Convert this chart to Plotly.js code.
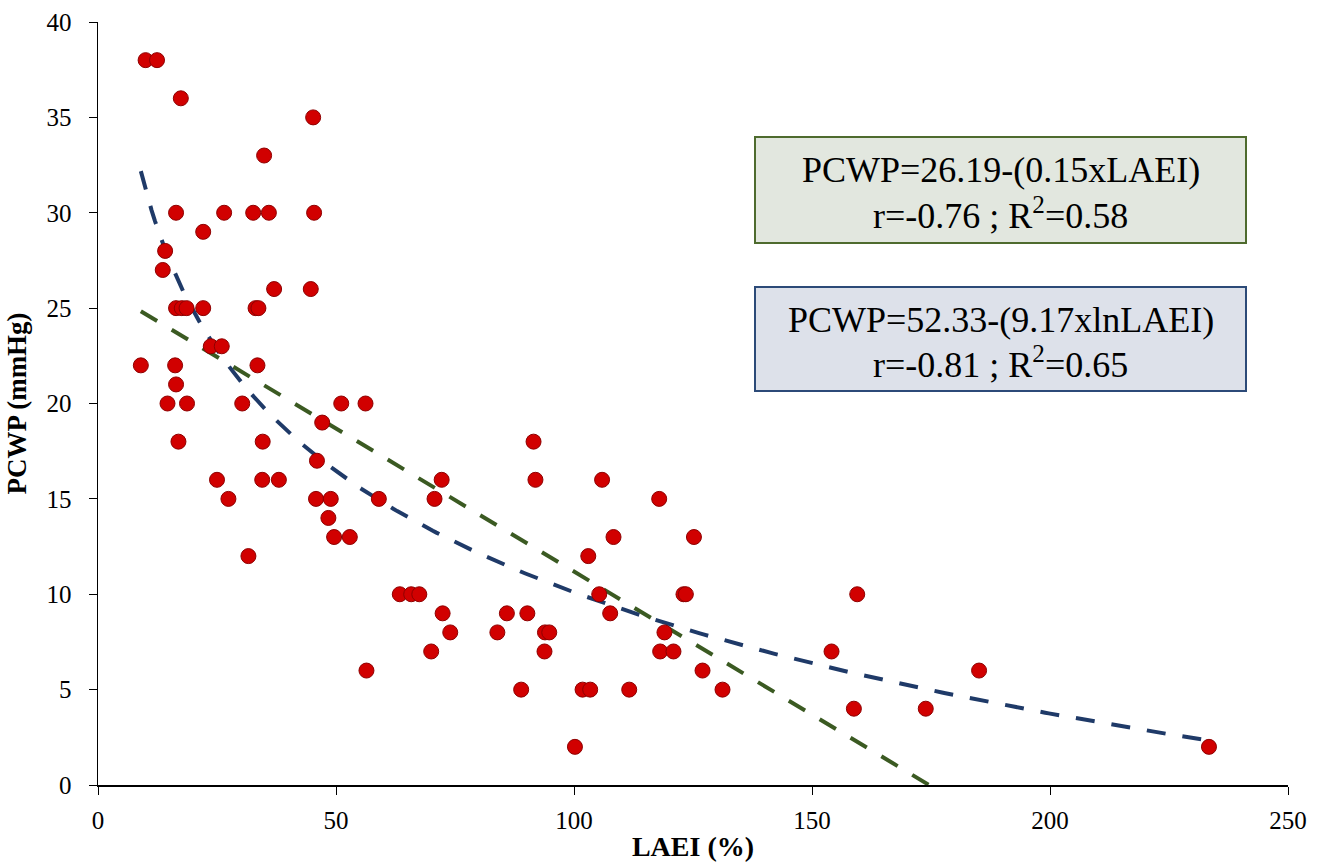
<!DOCTYPE html>
<html>
<head>
<meta charset="utf-8">
<script src="https://cdn.plot.ly/plotly-3.0.1.min.js"></script>
<style>
  html, body { margin: 0; padding: 0; background: #ffffff; }
  #chart { width: 1326px; height: 867px; }
</style>
</head>
<body>
<div id="chart"></div>
<script>
// LAEI (%) for each patient
const laei = [
  10.0, 12.4,
  17.4,
  45.2,
  34.9,
  16.4, 26.5, 32.6, 35.9, 45.4,
  22.1,
  14.1,
  13.6,
  37.0, 44.7,
  16.4, 17.6, 18.6, 22.1, 33.1, 33.7,
  23.7, 26.0,
  9.0, 16.2, 33.5,
  16.4,
  14.6, 18.7, 30.3, 51.1, 56.2,
  47.1,
  16.9, 34.6, 91.5,
  46.0,
  25.0, 34.5, 38.0, 72.2, 91.9, 105.9,
  27.4, 45.8, 48.9, 59.0, 70.7, 117.9,
  48.4,
  49.6, 52.9, 108.3, 125.2,
  31.6, 103.0,
  63.4, 65.8, 67.5, 105.3, 123.0, 123.5, 159.5,
  72.4, 85.9, 90.2, 107.6,
  74.0, 83.9, 93.9, 94.8, 119.0,
  70.0, 93.8, 118.1, 120.9, 154.1,
  56.4, 127.0, 185.1,
  88.9, 101.8, 103.4, 111.6, 131.2,
  158.8, 173.9,
  100.2, 233.4
];

// PCWP (mmHg) for the same patients
const pcwp = [
  38, 38,
  36,
  35,
  33,
  30, 30, 30, 30, 30,
  29,
  28,
  27,
  26, 26,
  25, 25, 25, 25, 25, 25,
  23, 23,
  22, 22, 22,
  21,
  20, 20, 20, 20, 20,
  19,
  18, 18, 18,
  17,
  16, 16, 16, 16, 16, 16,
  15, 15, 15, 15, 15, 15,
  14,
  13, 13, 13, 13,
  12, 12,
  10, 10, 10, 10, 10, 10, 10,
  9, 9, 9, 9,
  8, 8, 8, 8, 8,
  7, 7, 7, 7, 7,
  6, 6, 6,
  5, 5, 5, 5, 5,
  4, 4,
  2, 2
];

// Regression coefficients shown in the equation boxes
const linIntercept = 26.19, linSlope = 0.15;
const logIntercept = 52.33, logSlope = 9.17;

const xTicks = [0, 50, 100, 150, 200, 250];
const yTicks = [0, 5, 10, 15, 20, 25, 30, 35, 40];

const linText = ['PCWP=26.19-(0.15xLAEI)', 'r=-0.76 ; R<sup>2</sup>=0.58'];
const logText = ['PCWP=52.33-(9.17xlnLAEI)', 'r=-0.81 ; R<sup>2</sup>=0.65'];

// Fitted curves over the observed LAEI span
const xMin = Math.min(...laei), xMax = Math.max(...laei);
const linEnd = Math.min(xMax, linIntercept / linSlope);
const linX = [xMin, linEnd];
const linY = linX.map(v => linIntercept - linSlope * v);
const logX = [], logY = [];
for (let i = 0; i <= 300; i++) {
  const v = xMin + (xMax - xMin) * i / 300;
  logX.push(v);
  logY.push(logIntercept - logSlope * Math.log(v));
}

const serif = 'Liberation Serif, Times New Roman, serif';

const traces = [
  {
    x: linX, y: linY, type: 'scatter', mode: 'lines',
    line: { color: '#3B5A22', width: 4, dash: '19px,17px' },
    hoverinfo: 'skip'
  },
  {
    x: logX, y: logY, type: 'scatter', mode: 'lines',
    line: { color: '#1F3A68', width: 4, dash: '19px,17px' },
    hoverinfo: 'skip'
  },
  {
    x: laei, y: pcwp, type: 'scatter', mode: 'markers',
    marker: { size: 15, color: '#D10000', line: { color: '#8E0000', width: 1 } }
  }
];

// Equation box geometry in paper units
const plotLeft = 98, plotRight = 1288, plotTop = 22, plotBottom = 785;
const px = v => (v - plotLeft) / (plotRight - plotLeft);
const py = v => (plotBottom - v) / (plotBottom - plotTop);

const layout = {
  width: 1326, height: 867,
  margin: { l: plotLeft, r: 1326 - plotRight, t: plotTop, b: 867 - plotBottom },
  paper_bgcolor: '#ffffff', plot_bgcolor: '#ffffff',
  showlegend: false,
  font: { family: serif, color: '#000000' },
  xaxis: {
    range: [0, 250], tickvals: xTicks, ticktext: xTicks.map(String),
    showgrid: false, zeroline: false,
    showline: true, linecolor: '#000000', linewidth: 1.5,
    ticks: 'outside', ticklen: 8, tickwidth: 1, tickcolor: '#000000',
    ticklabelstandoff: 4,
    tickfont: { family: serif, size: 25, color: '#000000' },
    title: { text: '<b>LAEI (%)</b>', font: { family: serif, size: 28, color: '#000000' }, standoff: 4 }
  },
  yaxis: {
    range: [0, 40], tickvals: yTicks, ticktext: yTicks.map(String),
    showgrid: false, zeroline: false,
    showline: true, linecolor: '#000000', linewidth: 1.5,
    ticks: 'outside', ticklen: 8, tickwidth: 1, tickcolor: '#000000',
    ticklabelstandoff: 12,
    tickfont: { family: serif, size: 25, color: '#000000' },
    title: { text: '<b>PCWP (mmHg)</b>', font: { family: serif, size: 27, color: '#000000' }, standoff: 12 }
  },
  shapes: [
    {
      type: 'rect', xref: 'paper', yref: 'paper', layer: 'above',
      x0: px(755), x1: px(1246), y0: py(243), y1: py(137),
      fillcolor: '#E2E7DF', line: { color: '#4E6B2E', width: 2 }
    },
    {
      type: 'rect', xref: 'paper', yref: 'paper', layer: 'above',
      x0: px(755), x1: px(1246), y0: py(391), y1: py(287),
      fillcolor: '#DDE1EA', line: { color: '#2C4A78', width: 2 }
    }
  ],
  annotations: [
    { text: linText[0], y: py(170) },
    { text: linText[1], y: py(213) },
    { text: logText[0], y: py(320) },
    { text: logText[1], y: py(362) }
  ].map(a => ({
    text: a.text, xref: 'paper', yref: 'paper',
    x: px(1000.5), y: a.y, xanchor: 'center', yanchor: 'middle',
    showarrow: false,
    font: { family: serif, size: 36, color: '#000000' }
  }))
};

Plotly.newPlot('chart', traces, layout, { displayModeBar: false, staticPlot: true });
</script>
</body>
</html>
